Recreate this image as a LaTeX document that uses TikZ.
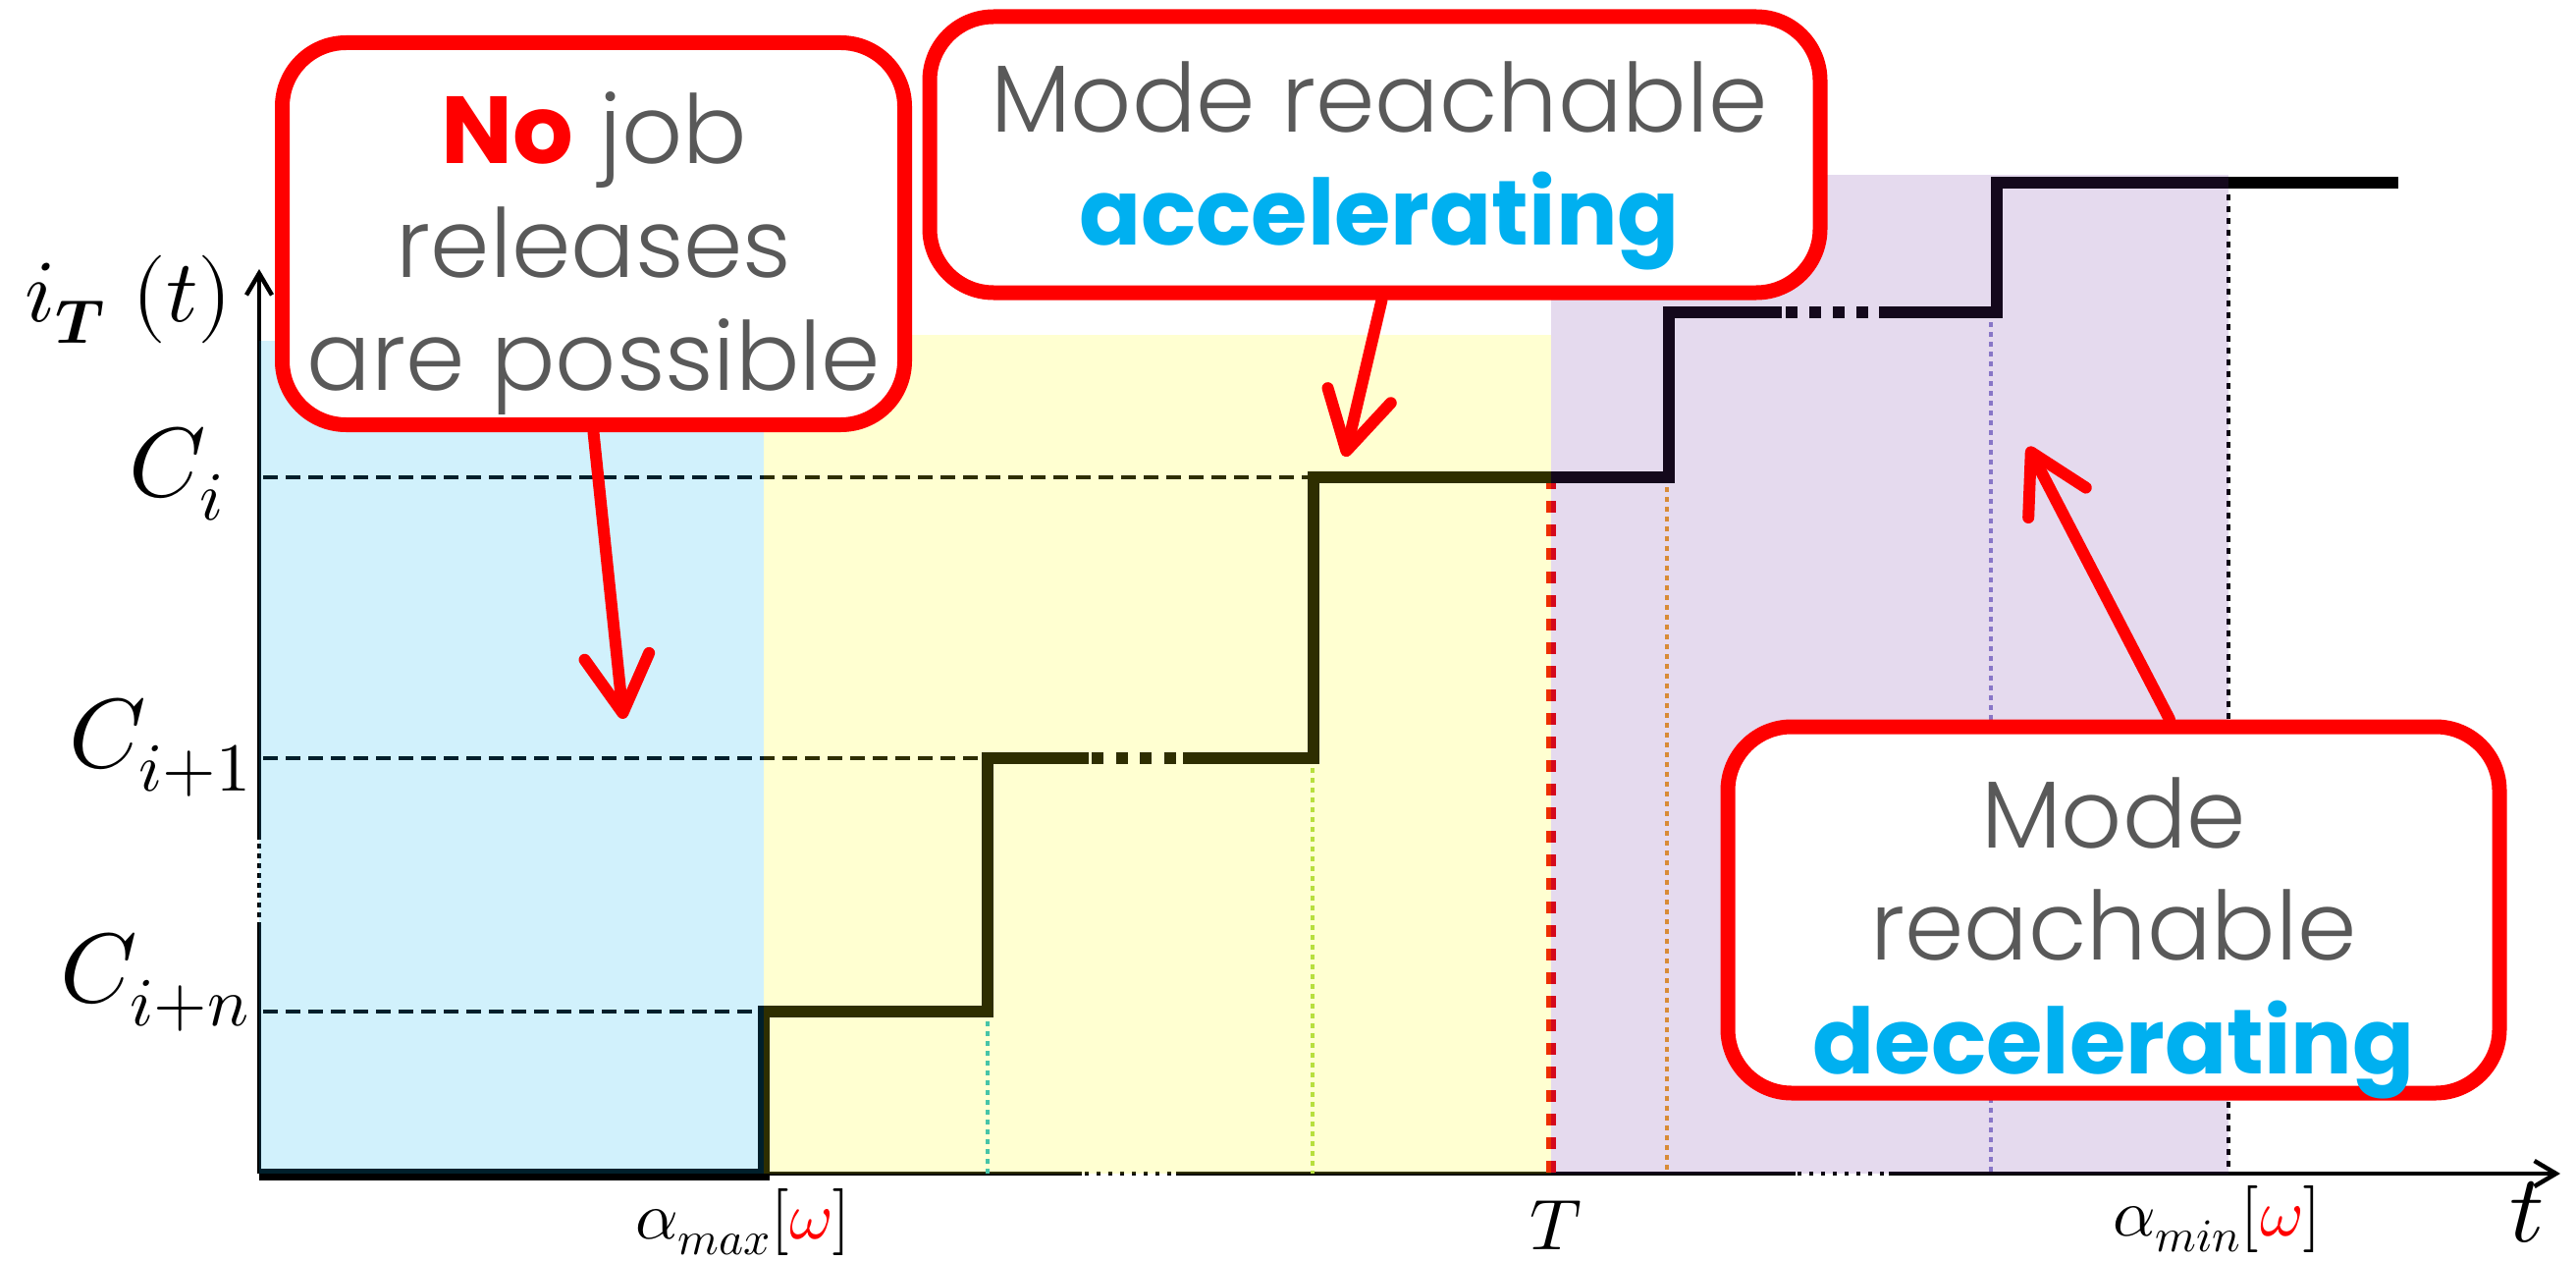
\documentclass[tikz,border=0pt]{standalone}
\usepackage{fontspec}
\usepackage{unicode-math}
\setmathfont{Latin Modern Math}
\newfontfamily\pop{Poppins}
\newfontfamily\popl{Poppins Light}
\usetikzlibrary{arrows.meta}
\definecolor{cgray}{HTML}{595959}
\definecolor{cblue}{HTML}{00B0F0}
\definecolor{cred}{HTML}{FF0000}
\definecolor{ccyan}{HTML}{1FB8CC}
\definecolor{cgreen}{HTML}{A8D84C}
\definecolor{corange}{HTML}{F0A020}
\definecolor{clav}{HTML}{8E86D0}
\definecolor{tblue}{HTML}{00B0F0}
\definecolor{tyellow}{HTML}{FFFF00}
\definecolor{tpurple}{HTML}{7030A0}
\begin{document}
\begin{tikzpicture}[x=1pt,y=-1pt,
  axisline/.style={line width=4.5pt, black},
  axisdots/.style={line width=4pt, black, dash pattern=on 4pt off 8pt},
  axistip/.style={-{Straight Barb[length=22pt,width=26pt]}},
  levelline/.style={line width=4pt, black, dash pattern=on 15pt off 8pt},
  vdots/.style={line width=4pt, dash pattern=on 5pt off 5pt},
  stepline/.style={line width=12pt, black, line join=miter},
  region/.style={fill opacity=0.18},
  callout/.style={draw=cred, line width=15pt, fill=white, rounded corners=65pt, inner sep=0pt},
  callarrow/.style={draw=cred, line width=12pt, line cap=round,
    -{Straight Barb[length=58pt,width=66pt,round]}},
  graytext/.style={anchor=base, inner sep=0pt, text=cgray, font=\popl\fontsize{97}{116}\selectfont},
  bluetext/.style={anchor=base, inner sep=0pt, text=cblue, font=\pop\bfseries\fontsize{93}{110}\selectfont},
  mlab/.style={inner sep=0pt, font=\fontsize{100}{110}\selectfont},
  tlab/.style={inner sep=0pt, anchor=base, font=\fontsize{68}{80}\selectfont}
]
\useasboundingbox (0,0) rectangle (2624,1284);

% horizontal level lines
\coordinate (O) at (264,1195);
\draw[levelline] (268,486) -- (1338,486);
\draw[levelline] (268,772) -- (1006,772);
\draw[levelline] (268,1030) -- (778,1030);

% axes
\draw[axisline] (O) -- (264,944);
\draw[axisline, dash pattern=on 5pt off 5pt, line width=3.5pt] (264,944) -- (264,855);
\draw[axisline, axistip] (264,855) -- (264,274);
\draw[axisline] (O) -- (1102,1195);
\draw[axisdots] (1105,1195) -- (1197,1195);
\draw[axisline] (1198,1195) -- (1829,1195);
\draw[axisdots] (1831,1195) -- (1923,1195);
\draw[axisline, axistip] (1924,1195) -- (2608,1195);

% vertical markers
\draw[vdots, ccyan, line width=3.5pt] (1006,1030) -- (1006,1195);
\draw[vdots, cgreen, line width=3.5pt] (1337,772) -- (1337,1195);
\draw[line width=10pt, cred!92!black, dash pattern=on 12pt off 12pt] (1580,486) -- (1580,1195);
\draw[vdots, corange, line width=3.5pt] (1698,486) -- (1698,1195);
\draw[vdots, clav, line width=3.5pt] (2028,318) -- (2028,1195);
\draw[line width=4pt, black, dash pattern=on 6pt off 6pt] (2270,186) -- (2270,1195);

% step function
\draw[stepline] (264,1196) -- (778,1196) -- (778,1030) -- (1006,1030) -- (1006,772) -- (1109,772);
\draw[stepline, dash pattern=on 12pt off 12.5pt] (1112,772) -- (1198,772);
\draw[stepline] (1205,772) -- (1338,772) -- (1338,486) -- (1700,486) -- (1700,318) -- (1815,318);
\draw[stepline, dash pattern=on 12pt off 12pt] (1819,318) -- (1903,318);
\draw[stepline] (1914,318) -- (2034,318) -- (2034,186) -- (2443,186);

% translucent regions
\fill[region, tblue] (264,347) rectangle (778,1195);
\fill[region, tyellow] (778,341) rectangle (1580,1195);
\fill[region, tpurple] (1580,178) rectangle (2270,1195);

% axis labels
\node[mlab, anchor=base west, font=\fontsize{90}{100}\selectfont] (lit) at (25,327) {$i_{\symbfit{T}}\ (t)$};
\node[mlab, anchor=base east] (lci) at (228,505) {$C_i$};
\node[mlab, anchor=base east] (lci1) at (256,781) {$C_{i+1}$};
\node[mlab, anchor=base east] (lcin) at (254,1020) {$C_{i+n}$};
\node[tlab] (lamax) at (757,1261) {$\alpha_{max}[\textcolor{cred}{\omega}]$};
\node[tlab, font=\fontsize{73}{80}\selectfont] (lT) at (1585,1272) {$T$};
\node[tlab] (lamin) at (2258,1258) {$\alpha_{min}[\textcolor{cred}{\omega}]$};
\node[tlab, font=\fontsize{98}{110}\selectfont] (lt) at (2574,1264) {$t$};

% callouts
\node[callout, minimum width=634pt, minimum height=389pt] (b1) at (604.5,238) {};
\node[graytext] (b1a) at (605,167) {\textcolor{cred}{\pop\bfseries No} job};
\node[graytext] (b1b) at (605,282) {releases};
\node[graytext] (b1c) at (605,397) {are possible};

\node[callout, minimum width=907pt, minimum height=281pt] (b2) at (1400.5,157.5) {};
\node[graytext] (b2a) at (1405,135) {Mode reachable};
\node[bluetext] (b2b) at (1405,250) {accelerating};

\node[callout, minimum width=786pt, minimum height=373pt] (b3) at (2153,926.5) {};
\node[graytext] (b3a) at (2153,863) {Mode};
\node[graytext] (b3b) at (2153,977) {reachable};
\node[bluetext] (b3c) at (2153,1093) {decelerating};

% arrows
\coordinate (t1) at (635,732);
\coordinate (t2) at (1370,465);
\coordinate (t3) at (2066,455);
\draw[callarrow] (b1.south) -- (t1);
\draw[callarrow] ([xshift=7pt]b2.south) -- (t2);
\draw[callarrow] ([xshift=57pt]b3.north) -- (t3);
\end{tikzpicture}
\end{document}
